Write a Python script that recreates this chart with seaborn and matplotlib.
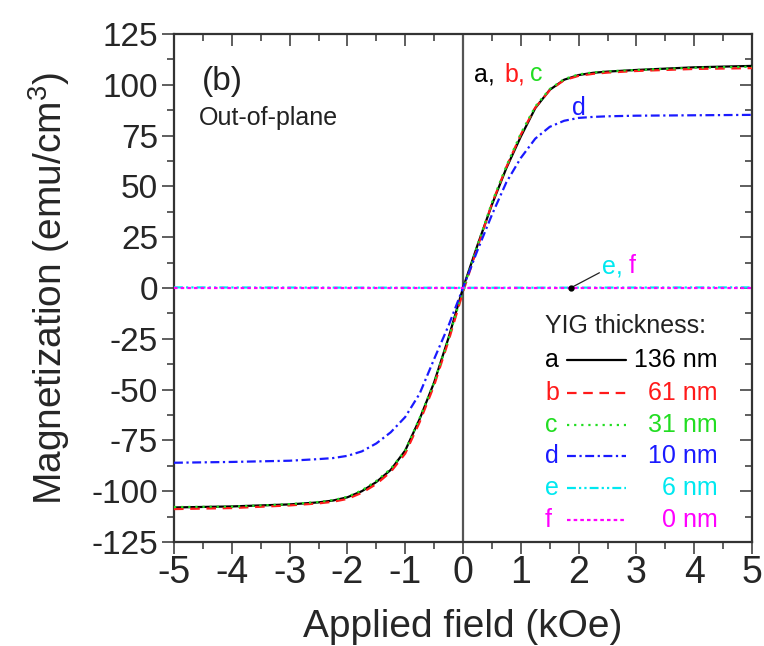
import matplotlib
matplotlib.use("Agg")
import matplotlib.pyplot as plt
from matplotlib.ticker import MultipleLocator
from matplotlib.markers import TICKDOWN, TICKLEFT
import seaborn as sns
import pandas as pd

# Applied field grid (kOe) shared by the measured loops
field = [-5, -4, -3, -2.5, -2.25, -2, -1.75, -1.5, -1.25, -1, -0.75, -0.5, -0.25, 0,
         0.25, 0.5, 0.75, 1, 1.25, 1.5, 1.75, 2, 2.25, 2.5, 3, 4, 5]

# Magnetization (emu/cm^3) for each YIG thickness
m_a = [-108.0, -107.5, -106.5, -105.5, -104.6, -103.0, -100.0, -95.5, -89.5, -80.0, -64.5, -46.5, -24.5, 0.0,
       21.0, 41.0, 59.0, 74.5, 88.5, 97.5, 102.5, 104.8, 105.9, 106.5, 107.3, 108.6, 109.3]
m_b = [-108.8, -108.3, -107.0, -106.0, -105.2, -103.8, -100.8, -96.5, -90.5, -81.5, -66.0, -48.0, -26.0, -2.0,
       20.0, 41.5, 59.5, 75.5, 88.8, 97.3, 102.3, 104.4, 105.4, 106.0, 106.8, 107.8, 108.2]
m_c = [-107.8, -107.6, -106.4, -105.3, -104.4, -102.8, -99.6, -95.0, -89.0, -80.0, -64.0, -46.5, -25.0, -1.0,
       21.0, 42.0, 60.0, 76.0, 89.3, 97.9, 102.8, 105.1, 106.1, 106.6, 107.3, 108.4, 108.9]
m_d = [-86.0, -85.6, -85.0, -84.2, -83.7, -82.6, -80.4, -76.5, -71.0, -63.5, -52.0, -35.0, -18.5, 0.0,
       18.5, 36.0, 52.0, 64.0, 73.5, 79.3, 82.3, 83.7, 84.2, 84.5, 84.8, 85.0, 85.2]
field_ef = [-5, -2.5, 0, 2.5, 5]
m_e = [0.3, 0.2, 0.1, 0.2, 0.3]
m_f = [0.0, 0.0, 0.0, 0.0, 0.0]

letters = ["a", "b", "c", "d", "e", "f"]
thickness = ["136 nm", "61 nm", "31 nm", "10 nm", "6 nm", "0 nm"]
colors = ["black", "#ff1a1a", "#22dd22", "#1a1aff", "#00e8f0", "#ff00ff"]
styles = ["-", (0, (4.3, 3)), (0, (1, 2.2)), (0, (4, 1.6, 1, 1.6)),
          (0, (4, 1.4, 1, 1.4, 1, 1.4)), (0, (1.6, 1.4))]

sns.set_theme(style="ticks")
plt.rcParams["font.family"] = ["Liberation Sans", "DejaVu Sans"]
plt.rcParams["mathtext.fontset"] = "custom"
plt.rcParams["mathtext.rm"] = "Liberation Sans"
plt.rcParams["mathtext.default"] = "regular"
plt.rcParams["axes.unicode_minus"] = False

fig = plt.figure(figsize=(7.64, 6.46), dpi=100)
ax = fig.add_axes([174 / 764, 1 - 542 / 646, 578 / 764, 508 / 646])

frame = "#333333"
ax.axvline(0, color="#555555", lw=1.6, zorder=1)

series = [(field, m_a), (field, m_b), (field, m_c), (field, m_d), (field_ef, m_e), (field_ef, m_f)]
for (xs, ys), col, ls in zip(series, colors, styles):
    df = pd.DataFrame({"H": xs, "M": ys})
    sns.lineplot(data=df, x="H", y="M", ax=ax, color=col, linestyle=ls, lw=1.6,
                 estimator=None, sort=False, zorder=3)

# panel annotations
ax.text(-4.52, 101.4, "(b)", fontsize=24, ha="left", va="center", color="#222222")
ax.text(-4.57, 83.7, "Out-of-plane", fontsize=18, ha="left", va="center", color="#222222")
for lab, xpos, col in zip(["a,", "b,", "c"], [0.19, 0.71, 1.16], colors[:3]):
    ax.text(xpos, 105.3, lab, fontsize=18, ha="left", va="center", color=col)
ax.text(1.89, 88.6, "d", fontsize=18, ha="left", va="center", color=colors[3])
ax.text(2.40, 10.8, "e,", fontsize=18, ha="left", va="center", color=colors[4])
ax.text(2.87, 10.8, "f", fontsize=18, ha="left", va="center", color=colors[5])
ax.annotate("", xy=(1.86, 0), xytext=(2.36, 7.5),
            arrowprops=dict(arrowstyle="-", color="#222222", lw=0.9, shrinkA=0, shrinkB=0))
ax.plot([1.86], [0], "o", color="black", ms=3.5, zorder=5)

# thickness key
ax.text(0.642, 0.425, "YIG thickness:", transform=ax.transAxes, fontsize=18,
        ha="left", va="center", color="#222222")
row_y = [0.358, 0.293, 0.230, 0.169, 0.106, 0.043]
for yy, lab, thk, col, ls in zip(row_y, letters, thickness, colors, styles):
    ax.text(0.642, yy, lab, transform=ax.transAxes, fontsize=18, ha="left", va="center", color=col)
    ax.plot([0.680, 0.782], [yy, yy], transform=ax.transAxes, color=col, linestyle=ls, lw=1.6)
    ax.text(0.941, yy, thk, transform=ax.transAxes, fontsize=18, ha="right", va="center", color=col)

ax.set_xlim(-5, 5)
ax.set_ylim(-125, 125)
ax.xaxis.set_major_locator(MultipleLocator(1))
ax.xaxis.set_minor_locator(MultipleLocator(0.5))
ax.yaxis.set_major_locator(MultipleLocator(25))
ax.yaxis.set_minor_locator(MultipleLocator(12.5))
ax.tick_params(axis="both", which="major", direction="out", length=8.5, width=1.1, color=frame,
               pad=3, top=True, right=True)
ax.tick_params(axis="both", which="minor", direction="out", length=5, width=1.1, color=frame,
               top=True, right=True)
ax.tick_params(axis="x", labelsize=27, pad=1)
ax.tick_params(axis="y", labelsize=24)
for s in ax.spines.values():
    s.set_color(frame)
    s.set_linewidth(1.6)

ax.set_xlabel("Applied field (kOe)", fontsize=28, labelpad=13)
ax.set_ylabel("Magnetization (emu/cm$^3$)", fontsize=28, labelpad=14)

# ticks on the top and right edges point into the frame
for t in ax.xaxis.get_major_ticks() + ax.xaxis.get_minor_ticks():
    t.tick2line.set_marker(TICKDOWN)
for t in ax.yaxis.get_major_ticks() + ax.yaxis.get_minor_ticks():
    t.tick2line.set_marker(TICKLEFT)

fig.savefig("out.png", dpi=100)
